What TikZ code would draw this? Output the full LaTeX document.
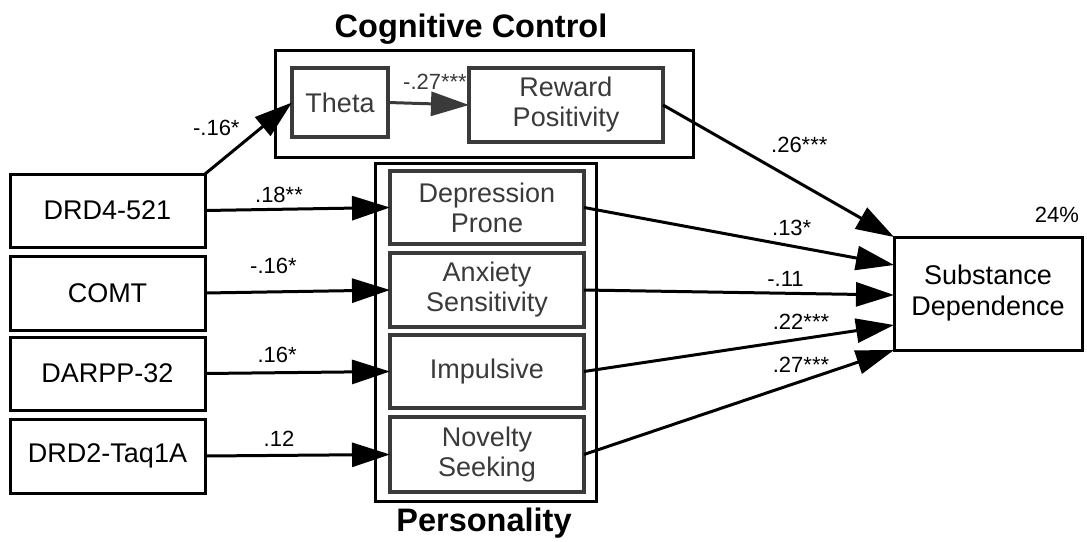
\documentclass[tikz,border=0pt]{standalone}
\usepackage{fontspec}
\setmainfont{Liberation Sans}
\usetikzlibrary{arrows.meta}
\definecolor{boxgray}{HTML}{3A3A3A}

\begin{document}
\begin{tikzpicture}[x=1pt, y=-1pt,
    every node/.style={inner sep=0pt, outer sep=0pt},
    gene/.style={draw=black, line width=3pt, rectangle, minimum width=195pt, minimum height=73pt, font=\fontsize{27}{30}\selectfont},
    trait/.style={draw=boxgray, line width=3.5pt, rectangle, minimum width=194pt, minimum height=73pt, text=boxgray, align=center, font=\fontsize{27}{30}\selectfont},
    frame/.style={draw=black, line width=3pt, rectangle},
    heading/.style={anchor=base, font=\fontsize{32.5}{36}\selectfont\bfseries},
    coef/.style={font=\fontsize{22}{26}\selectfont},
    arr/.style={line width=3pt, -{Triangle[length=38pt, width=24pt]}}]
    \useasboundingbox (0,0) rectangle (1087,541);

    % cognitive control block
    \node[heading](cogtitle) at (471,37){Cognitive Control};
    \node[frame, minimum width=418pt, minimum height=107pt](cogbox) at (484,103.5){};
    \node[trait, minimum width=96pt, minimum height=69pt](theta) at (340,102.5){Theta};
    \node[trait, minimum height=74pt](reward) at (566,105){Reward\\Positivity};

    % personality block
    \node[frame, minimum width=221pt, minimum height=338pt](persbox) at (485.5,332){};
    \node[trait](depr) at (487,207.5){Depression\\Prone};
    \node[trait, minimum height=74pt](anx) at (487,290){Anxiety\\Sensitivity};
    \node[trait](imp) at (487,371.5){Impulsive};
    \node[trait, minimum height=75pt](nov) at (487,454.5){Novelty\\Seeking};
    \node[heading](perstitle) at (484,531){Personality};

    % genes
    \node[gene](drd4) at (107.5,210.5){DRD4-521};
    \node[gene, minimum height=74pt](comt) at (107.5,293){COMT};
    \node[gene](darpp) at (107.5,373.5){DARPP-32};
    \node[gene, minimum height=74pt](drd2) at (107.5,456){DRD2-Taq1A};

    % outcome
    \node[draw=black, line width=3pt, rectangle, minimum width=188pt, minimum height=113pt, align=center, font=\fontsize{27}{31}\selectfont](subst) at (988,293.5){Substance\\Dependence};
    \node[coef, anchor=base](rsq) at (1057,222){24\%};

    % paths
    \draw[arr] (drd4.north east) -- (theta.west) node[coef, pos=0.65, left=22pt]{-.16*};
    \draw[arr, boxgray] (theta.east) -- (reward.west) node[coef, pos=0.58, above=14pt]{-.27***};
    \draw[arr] (drd4.east) -- (depr.west) node[coef, pos=0.4, above=6.5pt]{.18**};
    \draw[arr] (comt.east) -- (anx.west) node[coef, pos=0.37, above=18pt]{-.16*};
    \draw[arr] (darpp.east) -- (imp.west) node[coef, pos=0.39, above=10.5pt]{.16*};
    \draw[arr] (drd2.east) -- (nov.west) node[coef, pos=0.4, above=8.5pt]{.12};

    \draw[arr] (reward.east) -- (subst.north west) node[coef, pos=0.59, above=30pt]{.26***};
    \draw[arr] (depr.east) -- ([yshift=28.5pt]subst.west) node[coef, pos=0.67, above=10pt]{.13*};
    \draw[arr] (anx.east) -- ([yshift=-1.5pt]subst.west) node[coef, pos=0.65, above=7pt]{-.11};
    \draw[arr] (imp.east) -- ([yshift=-31.5pt]subst.west) node[coef, pos=0.7, above=9pt]{.22***};
    \draw[arr] (nov.east) -- (subst.south west) node[coef, pos=0.7, above=9pt]{.27***};
\end{tikzpicture}
\end{document}
